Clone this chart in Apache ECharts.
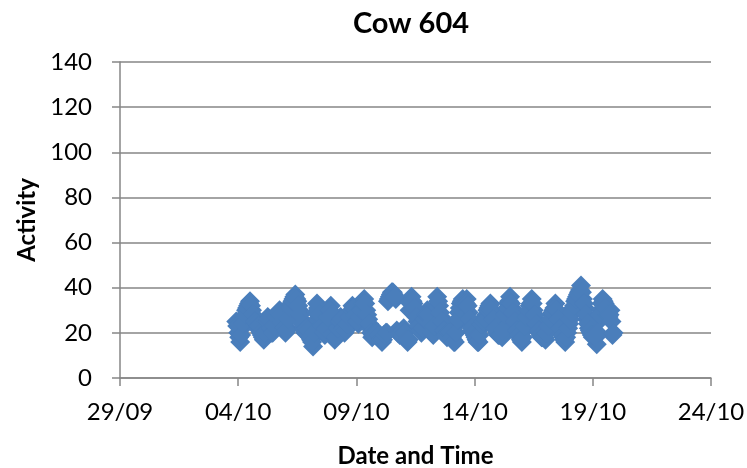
<!DOCTYPE html>
<html><head><meta charset="utf-8">
<script src="https://cdn.jsdelivr.net/npm/echarts@6/dist/echarts.min.js"></script>
<style>html,body{margin:0;padding:0;background:#fff}#c{width:747px;height:468px}</style>
</head><body><div id="c"></div>
<script>
// hours since 29/09 00:00 and activity values (hourly readings, split even / odd hours)
const xTickLabels = ['29/09','04/10','09/10','14/10','19/10','24/10'];
const evenHours = [
 118,120,122,124,126,128,130,132,134,136,138,140,
 142,144,146,148,150,152,154,156,158,160,162,164,
 166,168,170,172,174,176,178,180,182,184,186,188,
 190,192,194,196,198,200,202,204,206,208,210,212,
 214,216,218,220,222,224,226,228,230,232,234,236,
 238,240,242,244,246,248,250,252,254,256,258,260,
 262,264,266,268,270,272,274,276,278,280,282,284,
 286,288,290,292,294,296,298,300,302,304,306,308,
 310,312,314,316,318,320,322,324,326,328,330,332,
 334,336,338,340,342,344,346,348,350,352,354,356,
 358,360,362,364,366,368,370,372,374,376,378,380,
 382,384,386,388,390,392,394,396,398,400,402,404,
 406,408,410,412,414,416,418,420,422,424,426,428,
 430,432,434,436,438,440,442,444,446,448,450,452,
 454,456,458,460,462,464,466,468,470,472,474,476,
 478,480,482,484,486,488,490,492,494,496,498,500];
const activityEven = [
 25,20,16,22,27,30,32,34,30,26,23,24,
 21,19,17,22,27,24,20,21,25,28,30,27,
 24,20,22,30,33,35,37,34,30,26,22,20,
 23,19,17,14,25,33,30,26,21,19,25,29,
 32,24,17,20,23,27,24,20,22,26,29,32,
 30,27,24,29,32,35,30,26,22,18,21,19,
 20,18,16,19,20,34,36,38,37,35,20,19,
 20,22,18,16,30,36,33,29,25,22,20,24,
 27,30,26,22,19,28,36,32,27,23,20,18,
 22,19,17,16,24,29,33,35,31,35,29,24,
 21,19,17,16,22,26,24,28,31,33,28,24,
 21,19,20,18,25,30,33,36,31,27,23,20,
 18,16,21,25,29,32,35,30,26,22,20,18,
 19,17,22,25,28,30,33,28,24,20,18,16,
 20,24,28,31,34,36,38,41,35,31,26,22,
 20,18,21,15,25,30,35,33,29,27,30,19];
const oddHours = [
 119,121,123,125,127,129,131,133,135,137,139,141,
 143,145,147,149,151,153,155,157,159,161,163,165,
 167,169,171,173,175,177,179,181,183,185,187,189,
 191,193,195,197,199,201,203,205,207,209,211,213,
 215,217,219,221,223,225,227,229,231,233,235,237,
 239,241,243,245,247,249,251,253,255,257,259,261,
 263,265,267,269,271,273,275,277,279,281,283,285,
 287,289,291,293,295,297,299,301,303,305,307,309,
 311,313,315,317,319,321,323,325,327,329,331,333,
 335,337,339,341,343,345,347,349,351,353,355,357,
 359,361,363,365,367,369,371,373,375,377,379,381,
 383,385,387,389,391,393,395,397,399,401,403,405,
 407,409,411,413,415,417,419,421,423,425,427,429,
 431,433,435,437,439,441,443,445,447,449,451,453,
 455,457,459,461,463,465,467,469,471,473,475,477,
 479,481,483,485,487,489,491,493,495,497,499,501];
const activityOdd = [
 23,18,19,24,28,31,33,32,28,25,24,23,
 20,18,20,25,26,22,20,23,27,29,28,25,
 22,21,26,31,34,36,35,32,28,24,21,22,
 21,18,16,20,29,31,28,23,20,22,27,30,
 28,20,18,22,25,26,22,21,24,27,30,31,
 28,25,27,30,33,33,28,24,20,19,20,20,
 19,17,17,19,20,35,37,38,36,21,20,20,
 21,20,17,17,33,34,31,27,23,21,22,26,
 28,28,24,20,23,32,34,29,25,21,19,20,
 20,18,16,20,26,31,34,33,33,32,26,22,
 20,18,16,19,24,25,26,30,32,30,26,22,
 20,19,19,21,28,31,34,33,29,25,21,19,
 17,18,23,27,30,33,33,28,24,21,19,18,
 18,20,23,26,29,31,30,26,22,19,17,18,
 22,26,29,32,35,37,39,38,33,28,24,21,
 19,19,18,20,28,33,34,31,28,28,25,20];

const font = 'Lato, "Open Sans", sans-serif';
const chart = echarts.init(document.getElementById('c'), null, {renderer:'canvas'});
const points = evenHours.map((h,i)=>[h, activityEven[i]])
  .concat(oddHours.map((h,i)=>[h, activityOdd[i]]));
chart.setOption({
  animation:false,
  backgroundColor:'#fff',
  title:{text:'Cow 604', left:406, top:4, textAlign:'center',
    textStyle:{fontFamily:font, fontSize:29, fontWeight:'bold', color:'#000'}},
  grid:{left:120, right:36, top:62, bottom:90, containLabel:false, outerBoundsMode:'none'},
  xAxis:{type:'value', min:0, max:600, interval:120,
    name:'Date and Time', nameLocation:'middle', nameGap:66,
    nameTextStyle:{fontFamily:font, fontSize:24, fontWeight:'bold', color:'#000'},
    axisLine:{show:true, onZero:false, lineStyle:{color:'#868686', width:1.5}},
    axisTick:{show:true, length:8, lineStyle:{color:'#868686', width:1.5}},
    axisLabel:{fontFamily:font, fontSize:24, color:'#000', margin:22,
      formatter:(v)=>xTickLabels[Math.round(v/120)]},
    splitLine:{show:false}},
  yAxis:{type:'value', min:0, max:140, interval:20,
    name:'Activity', nameLocation:'middle', nameGap:80, nameRotate:90,
    nameTextStyle:{fontFamily:font, fontSize:24, fontWeight:'bold', color:'#000'},
    axisLine:{show:true, lineStyle:{color:'#868686', width:1.5}},
    axisTick:{show:true, length:8, lineStyle:{color:'#868686', width:1.5}},
    axisLabel:{fontFamily:font, fontSize:24, color:'#000', margin:28},
    splitLine:{show:true, lineStyle:{color:'#868686', width:1.5}}},
  series:[{type:'scatter', symbol:'diamond', symbolSize:20,
    itemStyle:{color:'#4a7ebb', opacity:1},
    data: points}]
});
</script></body></html>
